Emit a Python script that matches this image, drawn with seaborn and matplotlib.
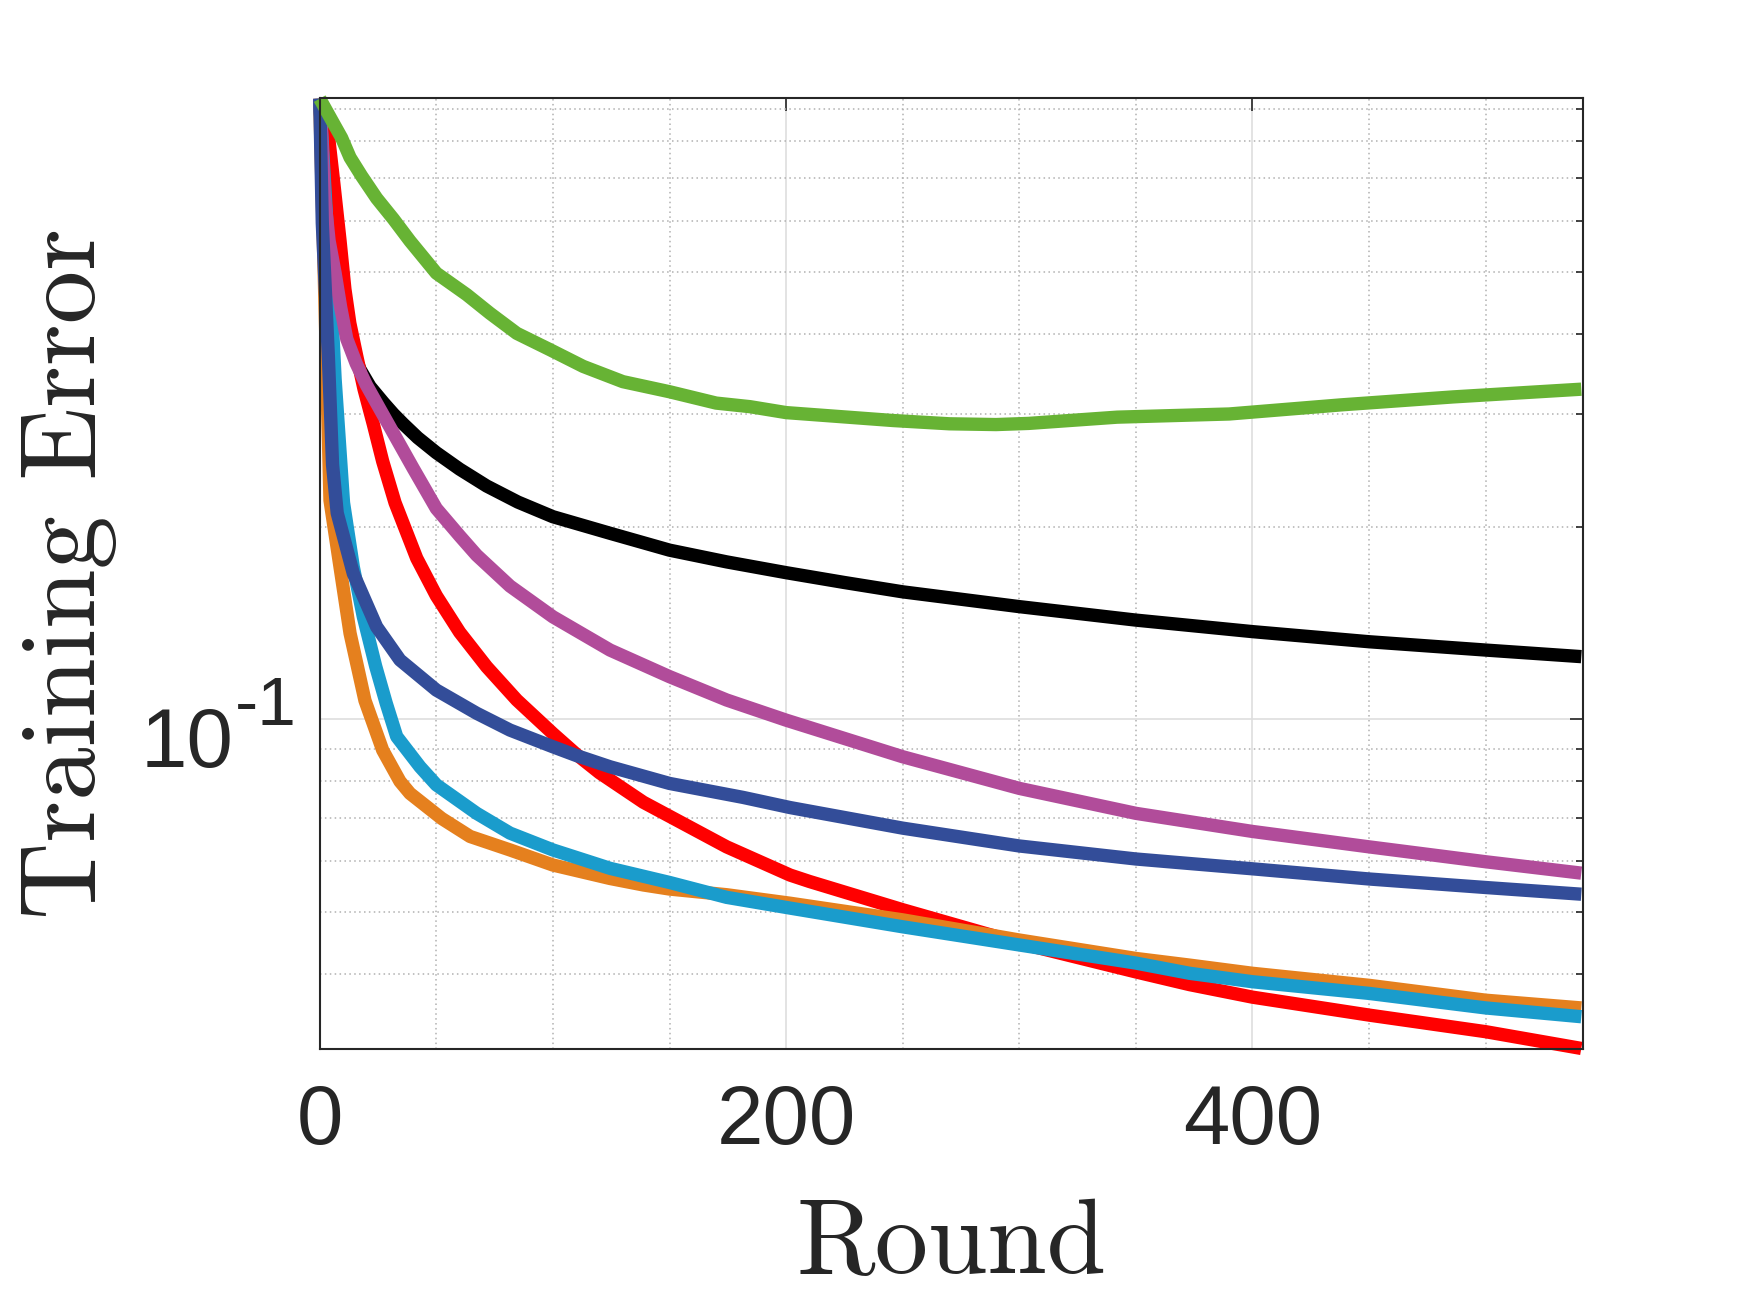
import matplotlib
matplotlib.use("Agg")
import matplotlib.pyplot as plt
import matplotlib.ticker as mticker
import numpy as np
import seaborn as sns

# training error per round (one pair of lists per curve)
black_x = [0, 1, 2, 3.7, 6, 10, 13.5, 17.3, 21.6, 27.3, 31.6, 35.8, 42, 50, 60, 71.6, 85, 100,
           124.5, 150, 174.5, 200, 225, 250, 300, 350, 400, 450, 500, 541]
black_y = [0.933, 0.80, 0.69, 0.582, 0.49, 0.418, 0.38, 0.352, 0.331, 0.3125, 0.300, 0.2895, 0.2755,
           0.261, 0.246, 0.2315, 0.2185, 0.2073, 0.1953, 0.1838, 0.1762, 0.1695, 0.1636, 0.1582,
           0.150, 0.1429, 0.1371, 0.1322, 0.1283, 0.1253]

red_x = [0, 2, 4, 6, 8.7, 10.8, 12.9, 15.9, 19, 23, 27, 32.3, 41.6, 50, 60, 71.6, 84.5, 100, 110,
         120, 138.8, 174.5, 201.7, 210, 250, 300, 350, 373, 400, 450, 500, 541]
red_y = [0.933, 0.88, 0.80, 0.69, 0.56, 0.47, 0.416, 0.369, 0.328, 0.289, 0.253, 0.218, 0.1785,
         0.156, 0.1368, 0.1208, 0.1072, 0.095, 0.0882, 0.0825, 0.0742, 0.0632, 0.0571, 0.0558,
         0.0504, 0.0447, 0.0403, 0.0385, 0.0368, 0.0345, 0.0325, 0.0306]

orange_x = [0, 4.4, 8.7, 13, 19.4, 27, 34.4, 38.7, 52.3, 64.5, 81.6, 100, 124.5, 138.8, 150,
            174.5, 201.7, 250, 300, 350, 373, 400, 450, 500, 541]
orange_y = [0.933, 0.22, 0.173, 0.1363, 0.107, 0.0895, 0.08, 0.0766, 0.07, 0.0656, 0.0625,
            0.0592, 0.0564, 0.0551, 0.0543, 0.0532, 0.0516, 0.0486, 0.0452, 0.0423, 0.0413,
            0.0401, 0.0384, 0.0364, 0.0354]

lightblue_x = [0, 4.7, 6.6, 10.2, 14.4, 18.7, 24, 28.5, 33, 43, 50, 67.3, 81.6, 100, 124.5, 150,
               174.5, 201.7, 250, 300, 350, 373, 400, 450, 500, 541]
lightblue_y = [0.933, 0.469, 0.34, 0.218, 0.173, 0.1446, 0.121, 0.106, 0.094, 0.0843, 0.079,
               0.0713, 0.0664, 0.0625, 0.0585, 0.0556, 0.0527, 0.0507, 0.0474, 0.0444, 0.0416,
               0.0401, 0.0389, 0.0373, 0.0354, 0.0343]

purple_x = [0, 1, 2, 4, 6.6, 9, 11.6, 15.6, 20, 25, 31.6, 40, 50, 60, 67.3, 81.6, 100, 124.5, 150,
            174.5, 200, 250, 300, 350, 400, 450, 500, 541]
purple_y = [0.933, 0.79, 0.66, 0.56, 0.498, 0.44, 0.393, 0.36, 0.333, 0.309, 0.280, 0.247, 0.2135,
            0.1935, 0.1805, 0.1615, 0.1446, 0.1283, 0.1166, 0.1072, 0.0997, 0.0874, 0.078, 0.0713,
            0.0668, 0.0632, 0.0599, 0.0575]

darkblue_x = [0, 1.1, 3.7, 5.5, 7.5, 14.4, 24.4, 34.4, 50, 67.3, 81.6, 100, 110, 124.5, 150, 181.6,
              201.7, 250, 300, 350, 400, 450, 500, 541]
darkblue_y = [0.933, 0.596, 0.369, 0.25, 0.21, 0.169, 0.1395, 0.1238, 0.1111, 0.1022, 0.0962,
              0.0906, 0.0878, 0.0843, 0.0794, 0.0755, 0.0728, 0.0676, 0.0634, 0.0605, 0.0584,
              0.0563, 0.0546, 0.0533]

green_x = [0, 5.1, 9.4, 13, 18, 24.4, 31.6, 38.7, 50, 63, 73, 84.5, 98.8, 113, 130, 150, 170, 184.5,
           200, 246, 270, 290, 304, 342, 390, 438, 486, 541]
green_y = [0.933, 0.864, 0.81, 0.755, 0.706, 0.652, 0.605, 0.559, 0.498, 0.461, 0.431, 0.401, 0.378,
           0.356, 0.337, 0.325, 0.312, 0.308, 0.3015, 0.293, 0.2896, 0.2888, 0.290, 0.2966, 0.300,
           0.310, 0.319, 0.328]

sns.set_style("white")
plt.rcParams["font.family"] = ["Liberation Sans", "DejaVu Sans"]
plt.rcParams["mathtext.default"] = "regular"

fig = plt.figure(figsize=(8.75, 6.565), dpi=200)
ax = fig.add_axes([0.1827, 0.2008, 0.7217, 0.7243])

curves = [
    (black_x, black_y, "#000000"),
    (red_x, red_y, "#FF0000"),
    (orange_x, orange_y, "#E5801E"),
    (lightblue_x, lightblue_y, "#1A9CCC"),
    (purple_x, purple_y, "#B14C9A"),
    (darkblue_x, darkblue_y, "#334D99"),
    (green_x, green_y, "#67B334"),
]
for xs, ys, col in curves:
    sns.lineplot(x=xs, y=ys, color=col, linewidth=4.8, ax=ax, clip_on=False,
                 solid_capstyle="butt", solid_joinstyle="round")

ax.set_yscale("log")
ax.set_xlim(0, 541.6)
ax.set_ylim(0.0305, 0.934)

ax.set_xticks([0, 200, 400])
ax.xaxis.set_minor_locator(mticker.MultipleLocator(50))
ax.yaxis.set_major_locator(mticker.LogLocator(base=10))
ax.yaxis.set_minor_locator(mticker.LogLocator(base=10, subs=np.arange(2, 10)))
ax.yaxis.set_major_formatter(mticker.NullFormatter())
ax.yaxis.set_minor_formatter(mticker.NullFormatter())

ax.set_axisbelow(True)
ax.grid(which="major", color="#dedede", linewidth=0.6, linestyle="-")
ax.grid(which="minor", color="#b0b0b0", linewidth=0.55, linestyle=(0, (1, 2.2)))

ax.tick_params(which="both", direction="in", top=True, right=True, color="#262626",
               labelcolor="#262626")
ax.tick_params(which="major", length=4.7, width=0.6, labelsize=30, pad=12)
ax.tick_params(which="minor", length=2.5, width=0.6)
ax.tick_params(axis="x", which="minor", length=0)

# MATLAB-style "10^-1" labels: base and a larger raised exponent with a short hyphen
lo, hi = ax.get_ylim()
for v in ax.yaxis.get_majorticklocs():
    if lo <= v <= hi:
        ax.annotate("10", xy=(0, v), xycoords=("axes fraction", "data"),
                    xytext=(-31.0, -17.1), textcoords="offset points",
                    ha="right", va="baseline", fontsize=30, color="#262626")
        ax.annotate("%d" % round(np.log10(v)), xy=(0, v), xycoords=("axes fraction", "data"),
                    xytext=(-30.7, -2.0), textcoords="offset points",
                    ha="left", va="baseline", fontsize=25, color="#262626")

for sp in ax.spines.values():
    sp.set_color("#262626")
    sp.set_linewidth(0.75)

ax.set_xlabel("Round", fontfamily="cmr10", fontsize=38.5, color="#262626")
ax.set_ylabel("Training Error", fontfamily="cmr10", fontsize=38.5, color="#262626")
ax.xaxis.set_label_coords(0.5, -0.157)
ax.yaxis.set_label_coords(-0.1605, 0.5)

fig.savefig("out.png", dpi=200)
